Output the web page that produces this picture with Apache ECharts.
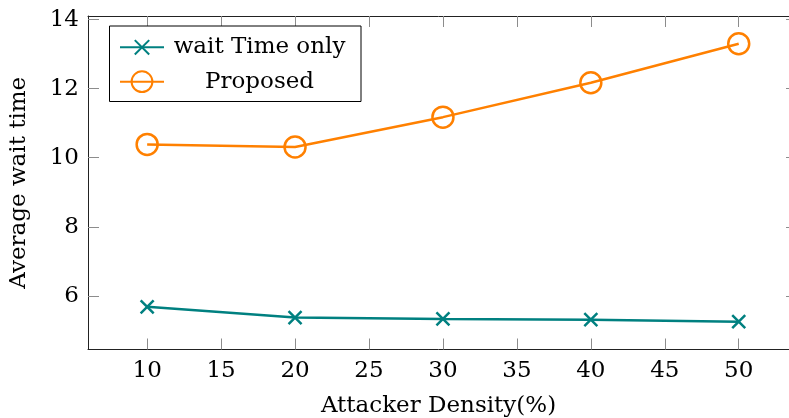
<!DOCTYPE html>
<html>
<head>
<meta charset="utf-8">
<script src="https://cdn.jsdelivr.net/npm/echarts@6/dist/echarts.min.js"></script>
<style>
html,body{margin:0;padding:0;background:#fff;overflow:hidden;}
#chart{width:789px;height:418px;}
</style>
</head>
<body>
<div id="chart"></div>
<script>
const xValues = [10, 20, 30, 40, 50];
const waitTimeOnly = [5.68, 5.37, 5.33, 5.31, 5.25];
const proposed = [10.385, 10.31, 11.175, 12.17, 13.30];
const xTickValues = [10, 15, 20, 25, 30, 35, 40, 45, 50];
const yTickValues = [6, 8, 10, 12, 14];
const seriesNames = ['wait Time only', 'Proposed'];
const xAxisTitle = 'Attacker Density(%)';
const yAxisTitle = 'Average wait time';

const FONT = 'DejaVu Serif';
const FS = 23;
const TEAL = '#008080';
const ORANGE = '#ff8000';

const chart = echarts.init(document.getElementById('chart'), null, {renderer: 'canvas'});

const tickLine = {color: '#8c8c8c', width: 1};
const axisLineStyle = {show: true, lineStyle: {color: '#222', width: 1}};

function legendFor(name, top, itemHeight) {
  return {
    orient: 'vertical',
    left: 119,
    top: top,
    padding: 0,
    itemGap: 0,
    itemWidth: 44,
    itemHeight: itemHeight,
    z: 6,
    data: [name],
    formatter: function (n) { return '{t|' + n + '}'; },
    textStyle: {
      fontFamily: FONT, fontSize: FS, color: '#000',
      rich: {t: {width: 181, height: 26, lineHeight: 26, align: 'center', fontFamily: FONT, fontSize: FS, color: '#000'}}
    }
  };
}

const option = {
  animation: false,
  backgroundColor: '#fff',
  grid: {left: 88, top: 16, width: 701, height: 333.5, containLabel: false, outerBoundsMode: 'none'},
  graphic: [{
    type: 'rect',
    shape: {x: 109.5, y: 26, width: 251.5, height: 75.5},
    style: {fill: '#fff', stroke: '#000', lineWidth: 1},
    z: 5
  }],
  legend: [legendFor(seriesNames[0], 34.3, 18), legendFor(seriesNames[1], 68.7, 26)],
  xAxis: [{
    type: 'value', position: 'bottom', min: 6, max: 53.4,
    axisLine: axisLineStyle,
    axisTick: {show: true, inside: true, length: 11, customValues: xTickValues, lineStyle: tickLine},
    axisLabel: {show: true, customValues: xTickValues, margin: 10, fontFamily: FONT, fontSize: FS, color: '#000'},
    splitLine: {show: false},
    name: xAxisTitle, nameLocation: 'middle', nameGap: 45,
    nameTextStyle: {fontFamily: FONT, fontSize: FS, color: '#000'}
  }, {
    type: 'value', position: 'top', min: 6, max: 53.4,
    axisLine: axisLineStyle,
    axisTick: {show: true, inside: true, length: 11, customValues: xTickValues, lineStyle: tickLine},
    axisLabel: {show: false},
    splitLine: {show: false}
  }],
  yAxis: [{
    type: 'value', position: 'left', min: 4.445, max: 14.105,
    axisLine: axisLineStyle,
    axisTick: {show: true, inside: true, length: 11, customValues: yTickValues, lineStyle: tickLine},
    axisLabel: {show: true, customValues: yTickValues, margin: 9, fontFamily: FONT, fontSize: FS, color: '#000'},
    splitLine: {show: false},
    name: yAxisTitle, nameLocation: 'middle', nameGap: 57, nameRotate: 90,
    nameTextStyle: {fontFamily: FONT, fontSize: FS, color: '#000'}
  }, {
    type: 'value', position: 'right', min: 4.445, max: 14.105,
    axisLine: {show: false},
    axisTick: {show: true, inside: true, length: 3, customValues: yTickValues, lineStyle: tickLine},
    axisLabel: {show: false},
    splitLine: {show: false}
  }],
  series: [{
    name: seriesNames[0],
    type: 'line',
    xAxisIndex: 0, yAxisIndex: 0,
    data: xValues.map((x, i) => [x, waitTimeOnly[i]]),
    symbol: 'path://M0,0L10,10M10,0L0,10',
    symbolSize: 13,
    showAllSymbol: true,
    lineStyle: {color: TEAL, width: 2.5},
    itemStyle: {color: TEAL, borderColor: TEAL, borderWidth: 2.5},
    z: 3
  }, {
    name: seriesNames[1],
    type: 'line',
    xAxisIndex: 0, yAxisIndex: 0,
    data: xValues.map((x, i) => [x, proposed[i]]),
    symbol: 'circle',
    symbolSize: 21,
    showAllSymbol: true,
    lineStyle: {color: ORANGE, width: 2.5},
    itemStyle: {color: 'rgba(255,255,255,0)', borderColor: ORANGE, borderWidth: 2.5},
    z: 3
  }]
};
chart.setOption(option);
</script>
</body>
</html>
